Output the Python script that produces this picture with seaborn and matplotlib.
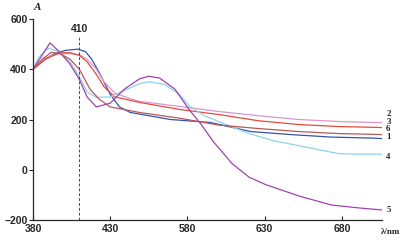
import pandas as pd
import matplotlib
matplotlib.use("Agg")
import matplotlib.pyplot as plt
import seaborn as sns

# Krzywe absorpcji (skala nominalna osi x)
wl_1 = [380, 388, 394, 401, 409, 414, 418, 423, 430, 436, 443, 469, 495, 521, 547, 573, 600, 606]
a_1 = [400, 440, 462, 475, 480, 470, 440, 385, 300, 250, 228, 200, 188, 152, 140, 130, 126, 124]

wl_2 = [380, 388, 396, 404, 410, 415, 421, 426, 433, 442, 449, 475, 500, 526, 552, 578, 600, 606]
a_2 = [400, 445, 462, 462, 458, 440, 400, 350, 305, 285, 272, 252, 232, 215, 200, 192, 188, 188]

wl_3 = [380, 388, 397, 404, 410, 415, 421, 426, 433, 449, 475, 500, 526, 552, 578, 600, 606]
a_3 = [400, 440, 465, 466, 455, 430, 380, 330, 290, 268, 240, 220, 195, 180, 172, 169, 168]

wl_4 = [380, 384, 390, 397, 404, 410, 415, 421, 430, 439, 449, 455, 465, 475, 481, 491, 501, 520, 536, 552, 578, 591, 606]
a_4 = [400, 450, 484, 470, 430, 370, 310, 288, 290, 315, 343, 350, 340, 300, 255, 215, 190, 144, 115, 96, 64, 62, 62]

wl_5 = [380, 391, 397, 404, 410, 415, 421, 430, 439, 449, 455, 462, 472, 481, 488, 497, 509, 520, 531, 552, 573, 591, 606]
a_5 = [400, 505, 470, 420, 360, 290, 250, 265, 320, 362, 372, 365, 320, 240, 188, 110, 24, -30, -60, -104, -140, -152, -160]

wl_6 = [380, 386, 392, 398, 404, 410, 417, 423, 430, 449, 475, 500, 526, 552, 578, 600, 606]
a_6 = [400, 440, 468, 460, 440, 400, 320, 280, 250, 228, 205, 178, 164, 152, 144, 141, 140]

series_names = ["1", "2", "3", "4", "5", "6"]
series_colors = ["#3454a8", "#d898cc", "#e8483c", "#8fd2ea", "#a042b0", "#b65a56"]

tick_pos = [380, 430, 480, 530, 580]
tick_lab = ["380", "430", "580", "630", "680"]
y_ticks = [-200, 0, 200, 400, 600]

frames = []
for name, wl, a in zip(series_names,
                       [wl_1, wl_2, wl_3, wl_4, wl_5, wl_6],
                       [a_1, a_2, a_3, a_4, a_5, a_6]):
    frames.append(pd.DataFrame({"wl": wl, "A": a, "nr": name}))
df = pd.concat(frames, ignore_index=True)

sns.set_style("ticks")
plt.rcParams["font.family"] = ["Liberation Sans", "DejaVu Sans"]

fig = plt.figure(figsize=(4.01, 2.42), dpi=100)
ax = fig.add_axes([33 / 401, 22 / 242, 349 / 401, 201 / 242])

sns.lineplot(data=df, x="wl", y="A", hue="nr", palette=dict(zip(series_names, series_colors)),
             linewidth=0.9, legend=False, ax=ax, estimator=None, sort=False)

# linia przerywana przy 410 nm
ax.plot([410, 410], [-200, 532], ls=(0, (3, 2)), color="#2c4c9c", lw=0.7)
ax.text(410, 560, "410", ha="center", va="center", fontsize=7.5, fontweight="bold")

ax.set_xlim(380, 606)
ax.set_ylim(-200, 600)
ax.set_xticks(tick_pos)
ax.set_xticklabels(tick_lab)
ax.set_yticks(y_ticks)
ax.tick_params(axis="x", direction="in", length=3, width=0.8, pad=3, labelsize=7.5)
ax.tick_params(axis="y", direction="out", length=3, width=0.8, pad=1, labelsize=7.5)
for t in ax.get_xticklabels() + ax.get_yticklabels():
    t.set_fontweight("bold")
ax.set_xlabel("")
ax.set_ylabel("")
sns.despine(ax=ax)
for s in ["left", "bottom"]:
    ax.spines[s].set_linewidth(0.9)

# numery krzywych po prawej stronie
label_y = {"2": 222, "3": 192, "6": 162, "1": 132, "4": 50, "5": -160}
for name, yv in label_y.items():
    ax.text(1.012, (yv + 200) / 800, name, transform=ax.transAxes, ha="left", va="center",
            fontsize=6.5, fontweight="bold", family=["Liberation Serif", "DejaVu Serif"])

fig.text(37 / 401, 1 - 8 / 242, "A", ha="center", va="center", fontsize=8,
         fontstyle="italic", fontweight="bold", family=["Liberation Serif", "DejaVu Serif"])
fig.text(381 / 401, 10 / 242, "λ/nm", ha="left", va="center", fontsize=6.5,
         fontweight="bold", family=["Liberation Serif", "DejaVu Serif"])

fig.savefig("out.png", dpi=100)
